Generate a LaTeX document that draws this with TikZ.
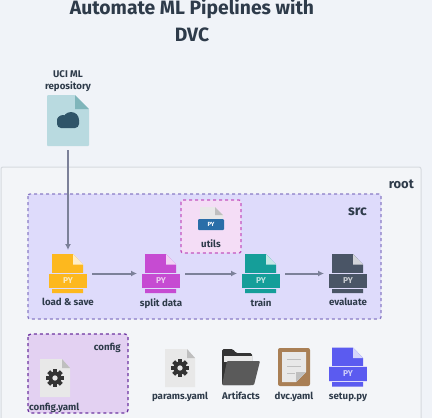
\documentclass[tikz,border=0pt]{standalone}
\usepackage{fontspec}
\setmainfont{Fira Sans}
\usetikzlibrary{positioning,arrows.meta}
\definecolor{pagebg}{HTML}{F0F3F8}
\definecolor{rootbg}{HTML}{F3F5F8}
\definecolor{rootline}{HTML}{D6DADF}
\definecolor{srcbg}{HTML}{DEDBFB}
\definecolor{srcline}{HTML}{8A7CC6}
\definecolor{utilsbg}{HTML}{F4DDF6}
\definecolor{utilsline}{HTML}{C455C0}
\definecolor{configbg}{HTML}{E3D1F2}
\definecolor{configline}{HTML}{6C34A0}
\definecolor{inkdark}{HTML}{2E3B4A}
\definecolor{arrowgray}{HTML}{7C8199}
\definecolor{pyyellow}{HTML}{FDB81E}
\definecolor{pymagenta}{HTML}{C64BD2}
\definecolor{pyteal}{HTML}{159E99}
\definecolor{pyslate}{HTML}{4A5566}
\definecolor{pyviolet}{HTML}{5B5BF0}
\definecolor{pyblue}{HTML}{2A6EA8}
\definecolor{papergray}{HTML}{E8E8E8}
\definecolor{foldgray}{HTML}{BFBFBF}
\definecolor{gearblack}{HTML}{333333}
\definecolor{dvcbrown}{HTML}{A97F55}
\definecolor{repoblue}{HTML}{B9DAE0}
\definecolor{repofold}{HTML}{7FB5BA}
\definecolor{repocloud}{HTML}{2F5468}
\definecolor{foldblack}{HTML}{333333}
\definecolor{foldmid}{HTML}{5A5A5A}
\tikzset{
  >={Latex[length=6pt,width=6pt]},
  iconbox/.style={minimum width=#1, inner sep=0pt, outer sep=0pt},
  pyicon/.style={iconbox=38pt, minimum height=39pt},
  namelabel/.style={font=\bfseries\fontsize{9.7}{12}\selectfont, text=inkdark, inner sep=0pt, align=center},
  flow/.style={->, arrowgray, line width=2pt, shorten <=5pt, shorten >=5pt},
  pyfile/.pic={
    \fill[#1] (-16,-19.5) -- (5,-19.5) -- (15,-9) -- (15,19.5) -- (-16,19.5) -- cycle;
    \fill[white!75!#1] (5,-19.5) -- (15,-9) -- (5,-9) -- cycle;
    \fill[#1] (-19,0) rectangle (19,14);
    \fill[srcbg] (-19,-.6) rectangle (19,0);
    \fill[srcbg] (-19,14) rectangle (19,15);
    \node[text=white!70!#1, font=\bfseries\fontsize{8.5}{8.5}\selectfont, inner sep=0pt] at (0,7) {PY};
  },
  gearfile/.pic={
    \fill[papergray] (-15,-19) -- (7,-19) -- (15,-10) -- (15,19) -- (-15,19) -- cycle;
    \fill[foldgray] (7,-19) -- (15,-10) -- (7,-10) -- cycle;
    \foreach \a in {0,45,...,315}
      \fill[gearblack, rotate=\a] (-2,-9) rectangle (2,-5);
    \fill[gearblack, even odd rule] (0,0) circle (6.5) (0,0) circle (2.8);
  }
}
\begin{document}
\begin{tikzpicture}[x=1pt,y=-1pt]
    \useasboundingbox (0,0) rectangle (432,418);
    \fill[pagebg] (0,0) rectangle (432,418);
    % boxes
    \draw[rootline, fill=rootbg, line width=1pt, rounded corners=2pt] (1,167) rectangle (421,425);
    \draw[srcline, fill=srcbg, line width=1.3pt, dashed, rounded corners=2pt] (28,194) rectangle (381,319);
    \draw[utilsline, fill=utilsbg, line width=1.3pt, dashed, rounded corners=2pt] (181,200) rectangle (241,253);
    \draw[configline, fill=configbg, line width=1.3pt, dashed, rounded corners=3pt] (28,334) rectangle (128,413);
    % title
    \node[font=\bfseries\fontsize{19.3}{26.5}\selectfont, text=inkdark, align=center, inner sep=0pt] (title) at (192,20.5) {Automate ML Pipelines with\\DVC};
    % source file
    \node[iconbox=42pt, minimum height=51pt] (repo) at (68,120.5) {};
    \fill[repoblue, rounded corners=1pt] (47,95) -- (75,95) -- (89,109) -- (89,146) -- (47,146) -- cycle;
    \fill[repofold] (75,95) -- (89,109) -- (75,109) -- cycle;
    \fill[repocloud, rounded corners=4pt] (57,116) rectangle (79,128);
    \fill[repocloud] (71,120) circle (8);
    \fill[repocloud] (63,121) circle (6);
    \node[namelabel, above=3pt of repo] (repolabel) {UCI ML\\repository};
    % pipeline steps
    \node[pyicon] (load) at (68,273.5) {};
    \node[pyicon] (split) at (161,273.5) {};
    \node[pyicon] (train) at (261,273.5) {};
    \node[pyicon] (evaluate) at (348,273.5) {};
    \pic at (load) {pyfile=pyyellow};
    \pic at (split) {pyfile=pymagenta};
    \pic at (train) {pyfile=pyteal};
    \pic at (evaluate) {pyfile=pyslate};
    \node[namelabel, below=5pt of load] (loadlabel) {load \& save};
    \node[namelabel, below=5pt of split] (splitlabel) {split data};
    \node[namelabel, below=5pt of train] (trainlabel) {train};
    \node[namelabel, below=5pt of evaluate] (evaluatelabel) {evaluate};
    \draw[flow, shorten <=4pt, shorten >=4pt] (repo.south) -- (load.north);
    \draw[flow] (load) -- (split);
    \draw[flow] (split) -- (train);
    \draw[flow] (train) -- (evaluate);
    % utils
    \node[iconbox=27pt, minimum height=24pt] (utils) at (211,219) {};
    \fill[papergray] (200,207) -- (215,207) -- (223,215) -- (223,225) -- (200,225) -- cycle;
    \fill[foldgray] (215,207) -- (223,215) -- (215,215) -- cycle;
    \fill[pyblue, rounded corners=1pt] (198,219) rectangle (224,230);
    \node[text=white, font=\bfseries\fontsize{6}{6}\selectfont, inner sep=0pt] at (211,224.5) {PY};
    \node[namelabel, below=8pt of utils] (utilslabel) {utils};
    % config
    \node[iconbox=30pt, minimum height=38pt] (configfile) at (55,378) {};
    \pic at (configfile) {gearfile};
    \node[namelabel, anchor=base west] (configlabel) at (29,410) {config.yaml};
    \node[namelabel, anchor=base east] (configtitle) at (121,350) {config};
    % other files
    \node[iconbox=30pt, minimum height=38pt] (params) at (180,368) {};
    \pic at (params) {gearfile};
    \node[namelabel, anchor=base] (paramslabel) at (180,399) {params.yaml};
    \node[iconbox=38pt, minimum height=36pt] (artifacts) at (241,367) {};
    \fill[foldblack, rounded corners=1.5pt] (222,385) -- (222,349) -- (233,349) -- (236,353) -- (252,353) -- (252,385) -- cycle;
    \fill[papergray] (224,356) rectangle (252,362);
    \fill[foldmid, rounded corners=1pt] (227,361) -- (260,361) -- (254,385) -- (222,385) -- cycle;
    \node[namelabel, anchor=base] (artifactslabel) at (241,399) {Artifacts};
    \node[iconbox=32pt, minimum height=39pt] (dvc) at (294,367.5) {};
    \fill[dvcbrown, rounded corners=2pt] (278,348) rectangle (310,386);
    \fill[papergray] (282,352) -- (306,352) -- (306,372) -- (296,382) -- (282,382) -- cycle;
    \fill[foldgray] (306,372) -- (296,372) -- (296,382) -- cycle;
    \draw[foldgray, line width=1pt] (287,359) -- (301,359) (287,366) -- (301,366) (287,373) -- (295,373);
    \node[namelabel, anchor=base] (dvclabel) at (294,399) {dvc.yaml};
    \node[pyicon] (setup) at (348,367) {};
    \pic at (setup) {pyfile=pyviolet};
    \node[namelabel, anchor=base] (setuplabel) at (348,399) {setup.py};
    % corner labels
    \node[font=\bfseries\fontsize{13}{13}\selectfont, text=inkdark, anchor=base east, inner sep=0pt] (rootlabel) at (414,188) {root};
    \node[font=\bfseries\fontsize{14}{14}\selectfont, text=inkdark, anchor=base east, inner sep=0pt] (srclabel) at (367,215) {src};
\end{tikzpicture}
\end{document}
